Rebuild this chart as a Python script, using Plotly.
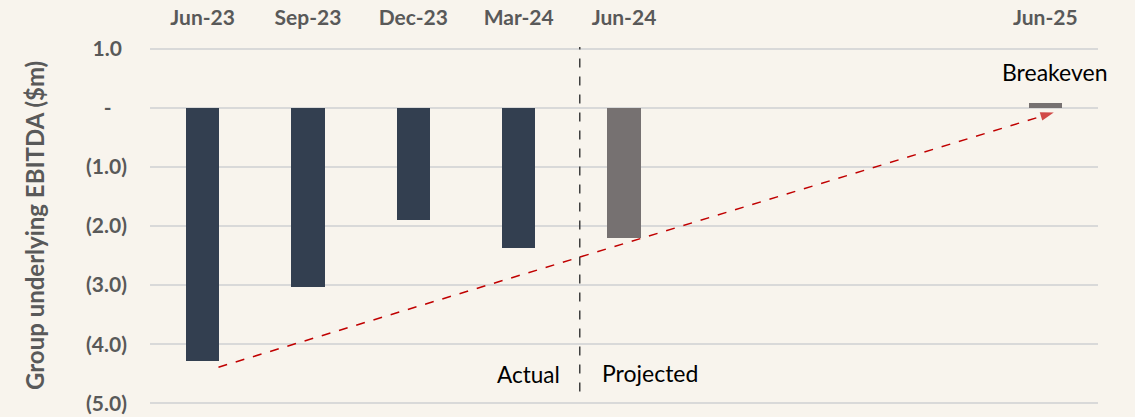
import plotly.graph_objects as go

# ---- data ----
periods = ["Jun-23", "Sep-23", "Dec-23", "Mar-24", "Jun-24", "Jun-25"]
period_pos = [0, 1, 2, 3, 4, 8]
actual_periods = ["Jun-23", "Sep-23", "Dec-23", "Mar-24"]
actual_values = [-4.28, -3.04, -1.89, -2.37]
projected_periods = ["Jun-24", "Jun-25"]
projected_values = [-2.2, 0.08]
ytick_vals = [1, 0, -1, -2, -3, -4, -5]
ytick_text = ["1.0\u00a0", "-\u00a0\u00a0\u00a0", "(1.0)", "(2.0)", "(3.0)", "(4.0)", "(5.0)"]
trend_x = [0.15, 8.08]
trend_y = [-4.39, -0.08]
divider_x = 3.58
divider_y = [1.14, -4.85]

pos = dict(zip(periods, period_pos))
BG = "#F8F4ED"
GRAY = "#595959"
FONT = "Lato"

fig = go.Figure()
fig.add_trace(go.Bar(
    x=[pos[p] for p in actual_periods], y=actual_values,
    marker=dict(color="#333F50", line=dict(width=0)), width=0.314,
    hoverinfo="skip"))
fig.add_trace(go.Bar(
    x=[pos[p] for p in projected_periods], y=projected_values,
    marker=dict(color="#767171", line=dict(width=0)), width=0.314,
    hoverinfo="skip"))
# divider
fig.add_trace(go.Scatter(
    x=[divider_x, divider_x], y=divider_y, mode="lines",
    line=dict(color="#404040", width=1.5, dash="dash"), hoverinfo="skip",
    cliponaxis=False))
# trend arrow
fig.add_trace(go.Scatter(
    x=trend_x, y=trend_y, mode="lines+markers",
    line=dict(color="#C00000", width=1.5, dash="dash"),
    marker=dict(symbol=["circle", "arrow"], size=[0, 14], color="#C00000",
                angleref="previous", line=dict(width=0)),
    hoverinfo="skip"))

fig.add_annotation(x=8.09, y=0.6, text="Breakeven", showarrow=False,
                   font=dict(family=FONT, size=23, color="#000000"))
fig.add_annotation(x=3.5, y=-4.52, xanchor="right", text="Actual", showarrow=False,
                   font=dict(family=FONT, size=22.5, color="#000000"), xshift=-9)
fig.add_annotation(x=3.66, y=-4.48, xanchor="left", text="Projected", showarrow=False,
                   font=dict(family=FONT, size=23, color="#000000"), xshift=12)
fig.add_annotation(xref="paper", yref="paper", x=0, y=0.5, xshift=-116, yshift=0,
                   xanchor="center", yanchor="middle",
                   text="Group underlying EBITDA ($m)", textangle=-90, showarrow=False,
                   font=dict(family=FONT, size=24, color=GRAY, weight="bold"))

fig.update_layout(
    width=1135, height=417,
    margin=dict(l=150, r=37, t=47, b=12),
    paper_bgcolor=BG, plot_bgcolor=BG,
    showlegend=False, bargap=0,
    font=dict(family=FONT, color=GRAY),
)
fig.update_xaxes(
    range=[-0.5, 8.5], tickvals=period_pos, ticktext=periods,
    side="top", showgrid=False, zeroline=False, showline=False, ticks="",
    automargin=False, ticklabelstandoff=17,
    tickfont=dict(family=FONT, size=21, color=GRAY, weight="bold"),
)
fig.update_yaxes(
    range=[-5.03, 1.03], tickvals=ytick_vals, ticktext=ytick_text,
    showgrid=True, gridcolor="#D9D9D9", gridwidth=2, zeroline=False,
    ticks="", ticklabelstandoff=22, automargin=False,
    tickfont=dict(family=FONT, size=21, color=GRAY, weight="bold"),
)
fig.write_html("out.html", config={"displayModeBar": False},
               post_script="document.body.style.margin='0';document.body.style.background='" + BG + "';")
